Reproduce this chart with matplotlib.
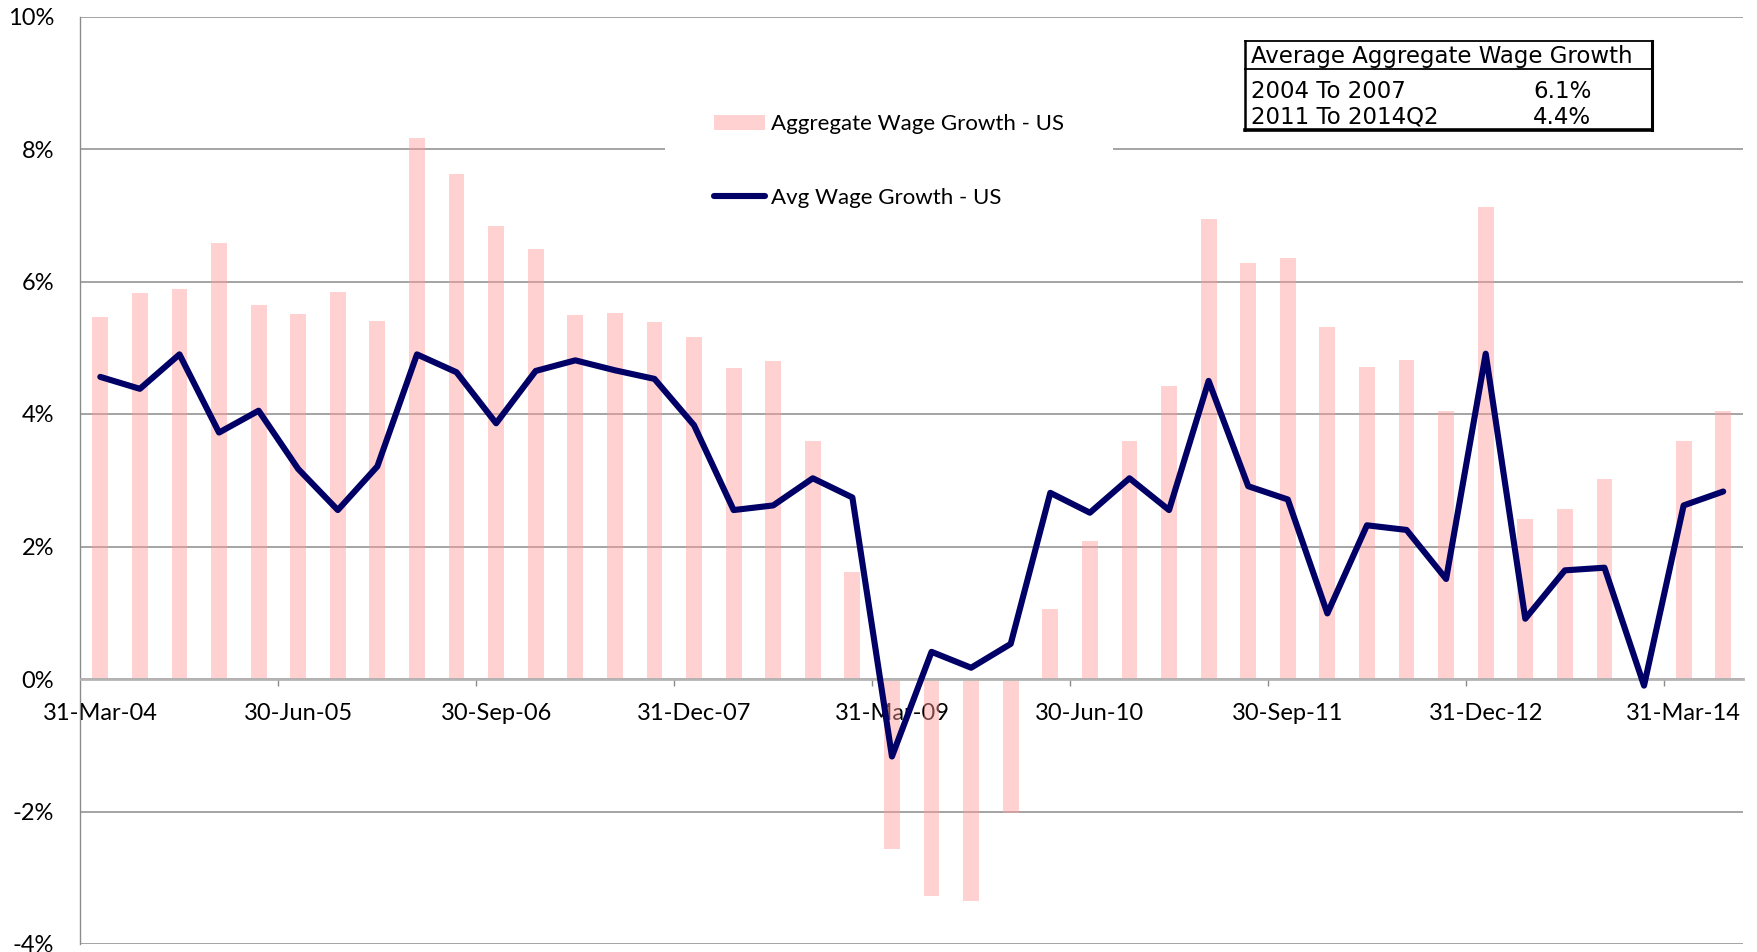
import numpy as np
import matplotlib
matplotlib.use("Agg")
import matplotlib.pyplot as plt
from matplotlib.patches import Rectangle
from matplotlib.lines import Line2D

# ---- data ----
quarters = ["31-Mar-04", "30-Jun-04", "30-Sep-04", "31-Dec-04",
            "31-Mar-05", "30-Jun-05", "30-Sep-05", "31-Dec-05",
            "31-Mar-06", "30-Jun-06", "30-Sep-06", "31-Dec-06",
            "31-Mar-07", "30-Jun-07", "30-Sep-07", "31-Dec-07",
            "31-Mar-08", "30-Jun-08", "30-Sep-08", "31-Dec-08",
            "31-Mar-09", "30-Jun-09", "30-Sep-09", "31-Dec-09",
            "31-Mar-10", "30-Jun-10", "30-Sep-10", "31-Dec-10",
            "31-Mar-11", "30-Jun-11", "30-Sep-11", "31-Dec-11",
            "31-Mar-12", "30-Jun-12", "30-Sep-12", "31-Dec-12",
            "31-Mar-13", "30-Jun-13", "30-Sep-13", "31-Dec-13",
            "31-Mar-14", "30-Jun-14"]
aggregate_wage_growth = [5.46, 5.82, 5.88, 6.58, 5.64, 5.51, 5.84, 5.40, 8.16, 7.63,
                         6.84, 6.49, 5.49, 5.53, 5.39, 5.16, 4.69, 4.80, 3.59, 1.61,
                         -2.56, -3.28, -3.35, -2.02, 1.06, 2.08, 3.60, 4.42, 6.94, 6.28,
                         6.36, 5.32, 4.71, 4.82, 4.05, 7.13, 2.41, 2.56, 3.02, 0.0,
                         3.59, 4.05]
avg_wage_growth = [4.56, 4.38, 4.90, 3.72, 4.05, 3.17, 2.55, 3.21, 4.90, 4.63,
                   3.86, 4.65, 4.81, 4.66, 4.53, 3.83, 2.55, 2.62, 3.03, 2.74,
                   -1.17, 0.41, 0.17, 0.53, 2.81, 2.51, 3.03, 2.55, 4.50, 2.91,
                   2.71, 0.99, 2.32, 2.25, 1.51, 4.91, 0.91, 1.64, 1.68, -0.10,
                   2.62, 2.83]
label_every = 5
y_ticks = [-4, -2, 0, 2, 4, 6, 8, 10]
table_title = "Average Aggregate Wage Growth"
table_periods = ["2004 To 2007", "2011 To 2014Q2"]
table_values = ["6.1%", "4.4%"]

W, H = 1758, 952
fig = plt.figure(figsize=(W / 100, H / 100), dpi=100)
fig.patch.set_facecolor("white")

L, R, T, B = 80.5, 1743, 16.5, 944
ax = fig.add_axes([L / W, 1 - B / H, (R - L) / W, (B - T) / H])

x = np.arange(len(quarters))
bars = ax.bar(x, aggregate_wage_growth, width=0.4, color="#FF9999", alpha=0.45,
              linewidth=0, zorder=1, label="Aggregate Wage Growth - US")
line, = ax.plot(x, avg_wage_growth, color="#000066", lw=4.4,
                solid_joinstyle="round", solid_capstyle="round", zorder=3,
                label="Avg Wage Growth - US")

ax.set_xlim(-0.5, len(quarters) - 0.5)
ax.set_ylim(-4, 10)
ax.set_axisbelow(True)

for s in ["top", "right"]:
    ax.spines[s].set_visible(False)
ax.spines["left"].set_color("#8c8c8c")
ax.spines["left"].set_linewidth(1.0)
ax.spines["bottom"].set_position(("data", 0))
ax.spines["bottom"].set_color("#b4b4b4")
ax.spines["bottom"].set_linewidth(2.0)

ax.yaxis.grid(True, color="#8c8c8c", linewidth=1.1)
ax.set_yticks(y_ticks)
ax.set_yticklabels([f"{v}%" for v in y_ticks], family="Lato", fontsize=17)
ax.tick_params(axis="y", length=0, pad=19)

major = x[::label_every]
ax.set_xticks(major)
ax.set_xticklabels([quarters[i] for i in major], family="Lato", fontsize=17)
ax.set_xticks(np.arange(label_every - 0.5, len(quarters) - 1, label_every), minor=True)
ax.tick_params(axis="x", which="major", length=0, pad=17.5)
ax.tick_params(axis="x", which="minor", length=5, width=1, color="#8c8c8c", direction="out")

leg = ax.legend(handles=[bars, line], loc="center",
                bbox_to_anchor=(889 / W, 1 - 161 / H), bbox_transform=fig.transFigure,
                frameon=True, facecolor="white", edgecolor="none", framealpha=1,
                fancybox=False, prop={"family": "Lato", "size": 16},
                handlelength=2.3, handletextpad=0.25, labelspacing=2.4, borderpad=2.2)
leg.set_zorder(5)

# ---- summary table (pixel overlay) ----
ov = fig.add_axes([0, 0, 1, 1], facecolor="none")
ov.set_xlim(0, W)
ov.set_ylim(H, 0)
ov.axis("off")
tx0, tx1, ty0, ty1, ysep = 1245, 1652, 41, 130, 68.5
ov.add_patch(Rectangle((tx0, ty0), tx1 - tx0, ty1 - ty0, facecolor="white",
                       edgecolor="none", zorder=1))
ov.add_line(Line2D([tx0, tx1], [ty0, ty0], color="black", lw=1.3))
ov.add_line(Line2D([tx0, tx1], [ysep, ysep], color="black", lw=1.3))
ov.add_line(Line2D([tx0, tx0], [ty0, ty1], color="black", lw=1.8))
ov.add_line(Line2D([tx1, tx1], [ty0, ty1], color="black", lw=2.2))
ov.add_line(Line2D([tx0, tx1], [ty1, ty1], color="black", lw=2.6))
tfont = dict(family="DejaVu Sans", fontsize=16.5, color="black", va="center", ha="left")
ov.text(1251, 56, table_title, **tfont)
for i, (p, v) in enumerate(zip(table_periods, table_values)):
    yy = 91 + i * 26.5
    ov.text(1251, yy, p, **tfont)
    ov.text(1533, yy, v, **tfont)

fig.savefig("out.png", dpi=100, facecolor="white")
